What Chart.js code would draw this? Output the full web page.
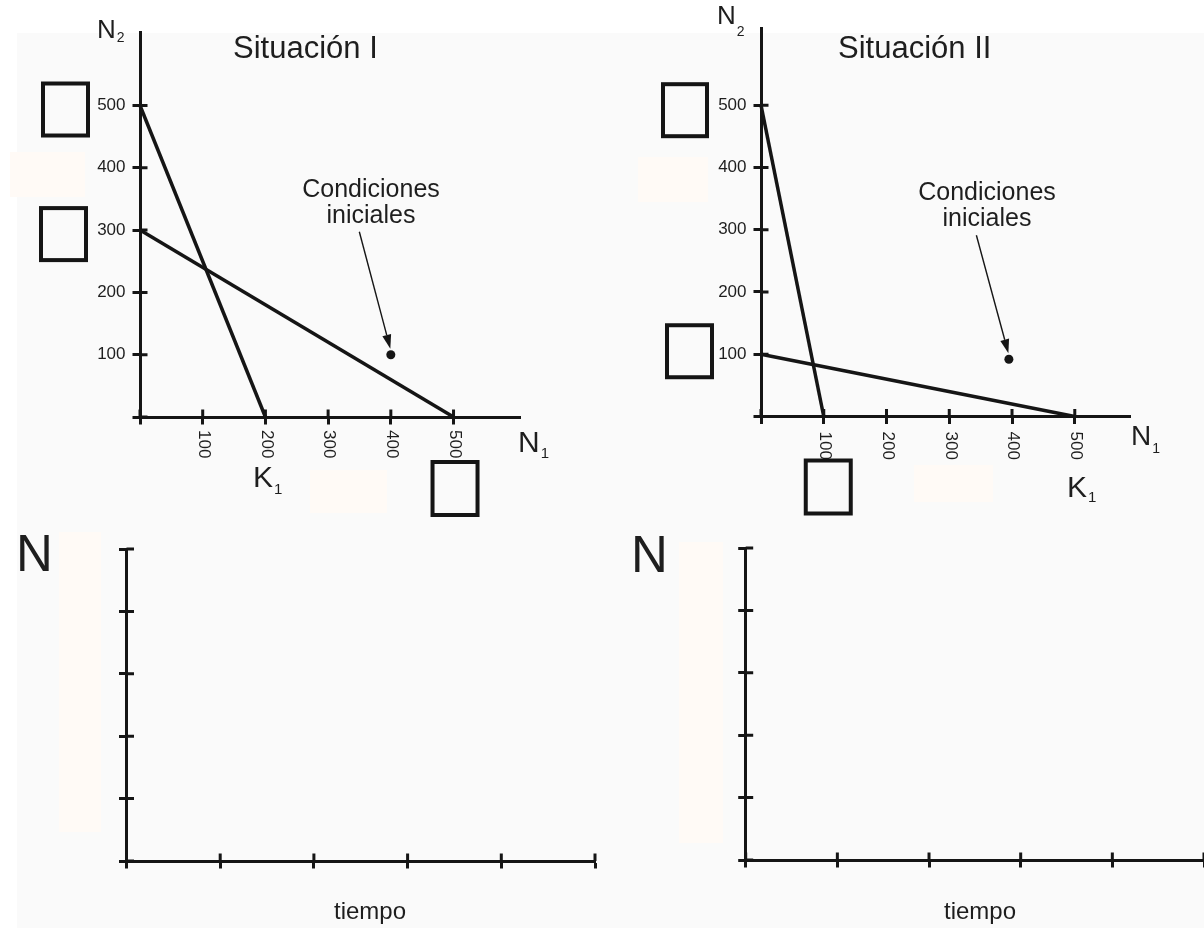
<!DOCTYPE html>
<html lang="es">
<head>
<meta charset="UTF-8">
<title>Situación I y Situación II</title>
<script src="https://cdn.jsdelivr.net/npm/chart.js"></script>
<style>
    body { margin: 0; background: #fff; }
    #page { position: relative; width: 1204px; height: 928px; overflow: hidden; }
    #panel { position: absolute; left: 17px; top: 33px; right: 0; bottom: 0; background: #fafafa; }
    canvas { position: absolute; left: 0; top: 0; }
</style>
</head>
<body>
<div id="page">
    <div id="panel"></div>
    <canvas id="sit1" width="1204" height="928"></canvas>
    <canvas id="sit2" width="1204" height="928"></canvas>
    <canvas id="time1" width="1204" height="928"></canvas>
    <canvas id="time2" width="1204" height="928"></canvas>
</div>

<script>
    // Situación I : isoclinas y condiciones iniciales
    const sit1IsoA = [{x: 0, y: 500}, {x: 200, y: 0}];
    const sit1IsoB = [{x: 0, y: 300}, {x: 500, y: 0}];
    const sit1Start = [{x: 400, y: 100}];

    // Situación II
    const sit2IsoA = [{x: 0, y: 500}, {x: 100, y: 0}];
    const sit2IsoB = [{x: 0, y: 100}, {x: 500, y: 0}];
    const sit2Start = [{x: 395, y: 92}];

    // tick values
    const phaseTicks = [0, 100, 200, 300, 400, 500];
    const timeTicks = [0, 1, 2, 3, 4, 5];

    const INK = '#151515';
    const TEXT = '#1e1e1e';
    const PEACH = '#fffaf6';
    const FONT = '"Liberation Sans", Arial, sans-serif';
    const TICK = 7.5;

    Chart.defaults.font.family = FONT;

    // grid ticks of Chart.js only go outward, this adds the inner half
    const crossTicks = {
        id: 'crossTicks',
        afterDraw(chart) {
            const {ctx, chartArea: a, scales: {x, y}} = chart;
            ctx.save();
            ctx.strokeStyle = INK;
            ctx.lineWidth = 3;
            ctx.beginPath();
            x.ticks.forEach(t => {
                const px = x.getPixelForValue(t.value);
                ctx.moveTo(px, a.bottom);
                ctx.lineTo(px, a.bottom - TICK);
            });
            y.ticks.forEach(t => {
                const py = y.getPixelForValue(t.value);
                ctx.moveTo(a.left, py);
                ctx.lineTo(a.left + TICK, py);
            });
            ctx.stroke();
            ctx.restore();
        }
    };

    function axisOptions(max, ticks, showLabels, fit) {
        return {
            type: 'linear',
            min: 0,
            max: max,
            afterBuildTicks: s => { s.ticks = ticks.map(v => ({value: v})); },
            afterFit: fit,
            ticks: {
                display: showLabels,
                padding: 7,
                color: TEXT,
                font: {family: FONT, size: 17},
                callback: v => (v === 0 ? '' : String(v))
            },
            grid: {drawOnChartArea: false, tickLength: TICK, tickWidth: 3, tickColor: INK},
            border: {width: 3, color: INK}
        };
    }

    function lineSet(points) {
        return {data: points, showLine: true, borderColor: INK, borderWidth: 3.5,
                pointRadius: 0, clip: false};
    }

    function dotSet(points) {
        return {data: points, pointRadius: 4.5, pointBackgroundColor: INK,
                pointBorderWidth: 0, clip: false};
    }

    function makeChart(id, cfg) {
        return new Chart(document.getElementById(id), {
            type: 'scatter',
            data: {datasets: cfg.datasets},
            options: {
                responsive: false,
                animation: false,
                events: [],
                layout: {padding: cfg.pad},
                plugins: {legend: {display: false}, tooltip: {enabled: false}},
                scales: {
                    x: axisOptions(cfg.xMax, cfg.xTicks, false, s => { s.height = cfg.xH; }),
                    y: axisOptions(cfg.yMax, cfg.yTicks, cfg.yLabels, s => { s.width = 60; })
                }
            },
            plugins: [crossTicks, {id: 'decor', beforeDraw: cfg.under, afterDraw: cfg.over}]
        });
    }

    // drawing helpers
    function write(ctx, str, x, y, size, align) {
        ctx.font = size + 'px ' + FONT;
        ctx.fillStyle = TEXT;
        ctx.textAlign = align || 'left';
        ctx.textBaseline = 'alphabetic';
        ctx.fillText(str, x, y);
    }

    function withSub(ctx, main, sub, x, y, size, subY, subSize) {
        write(ctx, main, x, y, size);
        ctx.font = size + 'px ' + FONT;
        const w = ctx.measureText(main).width;
        write(ctx, sub, x + w + 1, subY, subSize);
    }

    function peach(ctx, l, t, r, b) {
        ctx.fillStyle = PEACH;
        ctx.fillRect(l, t, r - l, b - t);
    }

    function answerBox(ctx, l, t, w, h) {
        ctx.save();
        ctx.strokeStyle = INK;
        ctx.lineWidth = 4;
        ctx.strokeRect(l + 2, t + 2, w - 4, h - 4);
        ctx.restore();
    }

    function arrow(ctx, x0, y0, x1, y1) {
        const ang = Math.atan2(y1 - y0, x1 - x0);
        const len = 14, half = 4.5;
        ctx.save();
        ctx.strokeStyle = INK;
        ctx.fillStyle = INK;
        ctx.lineWidth = 1.4;
        ctx.beginPath();
        ctx.moveTo(x0, y0);
        ctx.lineTo(x1 - Math.cos(ang) * len, y1 - Math.sin(ang) * len);
        ctx.stroke();
        ctx.translate(x1, y1);
        ctx.rotate(ang);
        ctx.beginPath();
        ctx.moveTo(0, 0);
        ctx.lineTo(-len, -half);
        ctx.lineTo(-len, half);
        ctx.closePath();
        ctx.fill();
        ctx.restore();
    }

    function rotatedXLabels(chart, values, gap) {
        const {ctx, chartArea: a, scales: {x}} = chart;
        ctx.save();
        ctx.font = '17px ' + FONT;
        ctx.fillStyle = TEXT;
        ctx.textAlign = 'left';
        ctx.textBaseline = 'middle';
        values.filter(v => v !== 0).forEach(v => {
            ctx.save();
            ctx.translate(x.getPixelForValue(v) + 1, a.bottom + gap);
            ctx.rotate(Math.PI / 2);
            ctx.fillText(String(v), 0, 0);
            ctx.restore();
        });
        ctx.restore();
    }

    function startArrow(chart, start, dx, dy) {
        const {x, y} = chart.scales;
        const tipX = x.getPixelForValue(start[0].x) - 0.5;
        const tipY = y.getPixelForValue(start[0].y) - 6;
        arrow(chart.ctx, tipX + dx, tipY + dy, tipX, tipY);
    }

    // Situación I
    makeChart('sit1', {
        datasets: [lineSet(sit1IsoA), lineSet(sit1IsoB), dotSet(sit1Start)],
        pad: {left: 80, right: 684, top: 32, bottom: 471},
        xMax: 606, yMax: 618, xH: 40,
        xTicks: phaseTicks, yTicks: phaseTicks, yLabels: true,
        under(chart) {
            const ctx = chart.ctx;
            peach(ctx, 10, 152, 85, 197);
            peach(ctx, 310, 470, 387, 513);
        },
        over(chart) {
            const {ctx, chartArea: a, scales: {x, y}} = chart;
            rotatedXLabels(chart, phaseTicks, 13);
            write(ctx, 'Situación I', 233, 58, 31);
            withSub(ctx, 'N', '2', 97, 38, 26, 42, 14);
            withSub(ctx, 'N', '1', 518, 452, 30, 458, 15);
            withSub(ctx, 'K', '1', 253, 487, 30, 494, 15);
            answerBox(ctx, a.left - 99, y.getPixelForValue(500) - 24, 49, 56);
            answerBox(ctx, a.left - 101, y.getPixelForValue(300) - 24, 49, 56);
            answerBox(ctx, x.getPixelForValue(500) - 23, a.bottom + 43, 49, 57);
            write(ctx, 'Condiciones', 371, 197, 25, 'center');
            write(ctx, 'iniciales', 371, 223, 25, 'center');
            startArrow(chart, sit1Start, -31, -117);
        }
    });

    // Situación II
    makeChart('sit2', {
        datasets: [lineSet(sit2IsoA), lineSet(sit2IsoB), dotSet(sit2Start)],
        pad: {left: 701, right: 74, top: 28, bottom: 471.5},
        xMax: 588, yMax: 624, xH: 40,
        xTicks: phaseTicks, yTicks: phaseTicks, yLabels: true,
        under(chart) {
            const ctx = chart.ctx;
            peach(ctx, 638, 157, 708, 202);
            peach(ctx, 914, 465, 993, 502);
        },
        over(chart) {
            const {ctx, chartArea: a, scales: {x, y}} = chart;
            rotatedXLabels(chart, phaseTicks, 15);
            write(ctx, 'Situación II', 838, 58, 31);
            withSub(ctx, 'N', '2', 717, 24, 26, 36, 14);
            withSub(ctx, 'N', '1', 1131, 445, 28, 453, 14);
            withSub(ctx, 'K', '1', 1067, 497, 30, 502, 15);
            answerBox(ctx, a.left - 100, y.getPixelForValue(500) - 23, 48, 56);
            answerBox(ctx, a.left - 96, y.getPixelForValue(100) - 31, 49, 56);
            answerBox(ctx, x.getPixelForValue(100) - 20, a.bottom + 42, 49, 57);
            write(ctx, 'Condiciones', 987, 200, 25, 'center');
            write(ctx, 'iniciales', 987, 226, 25, 'center');
            startArrow(chart, sit2Start, -32, -118);
        }
    });

    // N frente a tiempo, sin datos (para completar)
    makeChart('time1', {
        datasets: [],
        pad: {left: 66.5, right: 609, top: 549, bottom: 37},
        xMax: 5, yMax: 5, xH: 30,
        xTicks: timeTicks, yTicks: timeTicks, yLabels: false,
        under(chart) {
            peach(chart.ctx, 59, 532, 101, 832);
        },
        over(chart) {
            const ctx = chart.ctx;
            write(ctx, 'N', 16, 571, 51);
            write(ctx, 'tiempo', 370, 919, 24, 'center');
        }
    });

    makeChart('time2', {
        datasets: [],
        pad: {left: 685.7, right: 0, top: 548, bottom: 38},
        xMax: 5, yMax: 5, xH: 30,
        xTicks: timeTicks, yTicks: timeTicks, yLabels: false,
        under(chart) {
            peach(chart.ctx, 679, 542, 723, 843);
        },
        over(chart) {
            const ctx = chart.ctx;
            write(ctx, 'N', 631, 572, 51);
            write(ctx, 'tiempo', 980, 919, 24, 'center');
        }
    });
</script>
</body>
</html>
